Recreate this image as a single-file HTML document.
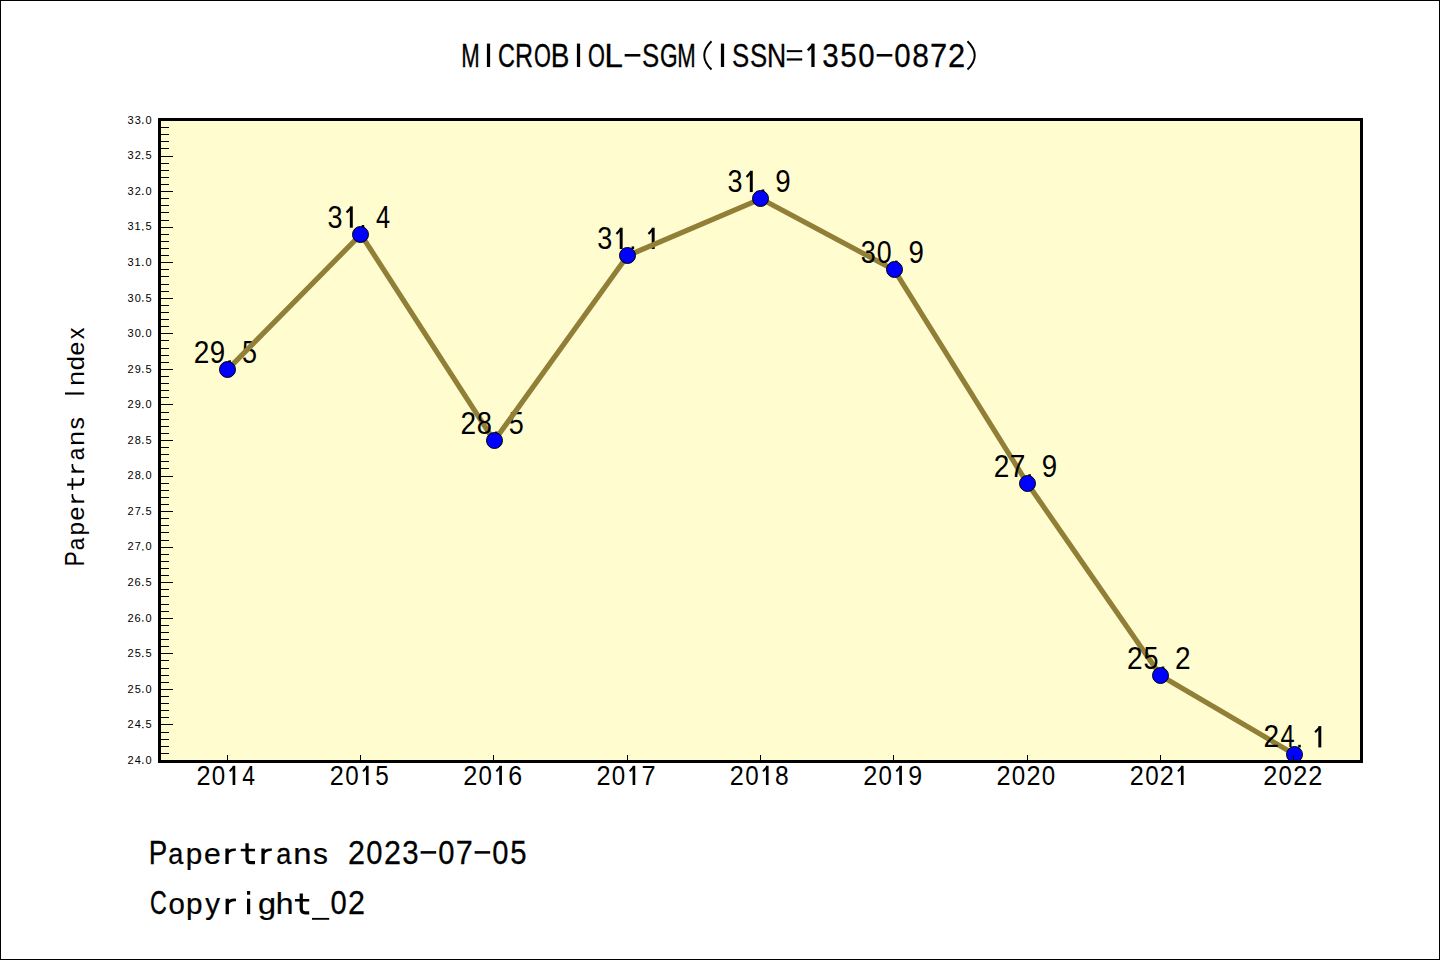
<!DOCTYPE html><html><head><meta charset="utf-8"><style>html,body{margin:0;padding:0;background:#fff;width:1440px;height:960px;overflow:hidden}svg{display:block}text{font-family:"Liberation Sans", sans-serif;fill:#000}</style></head><body>
<svg width="1440" height="960" viewBox="0 0 1440 960">
<rect x="0.5" y="0.5" width="1439" height="959" fill="#fff" stroke="#000" stroke-width="1"/>
<rect x="158" y="118" width="1205" height="645" fill="#FFFDD0"/>
<text transform="translate(193.75 362.95) scale(0.906 1.000)" font-size="30.96">2</text><text transform="translate(209.86 362.95) scale(0.894 1.000)" font-size="30.96">9</text><rect x="228.35" y="360.35" width="2.6" height="2.6" fill="#000"/><text transform="translate(242.08 362.95) scale(0.871 1.000)" font-size="30.96">5</text>
<line x1="227.55" y1="369.65" x2="360.88" y2="234.37" stroke="#917F37" stroke-width="5.2"/>
<text transform="translate(327.46 227.67) scale(0.871 1.000)" font-size="30.96">3</text><rect x="349.84" y="206.37" width="2.94" height="21.30" fill="#000"/><path d="M351.31 207.40L346.62 212.55" stroke="#000" stroke-width="2.20" fill="none"/><rect x="361.68" y="225.07" width="2.6" height="2.6" fill="#000"/><text transform="translate(375.91 227.67) scale(0.819 1.000)" font-size="30.96">4</text>
<line x1="360.88" y1="234.37" x2="494.21" y2="440.85" stroke="#917F37" stroke-width="5.2"/>
<text transform="translate(460.41 434.15) scale(0.906 1.000)" font-size="30.96">2</text><text transform="translate(476.64 434.15) scale(0.880 1.000)" font-size="30.96">8</text><rect x="495.01" y="431.55" width="2.6" height="2.6" fill="#000"/><text transform="translate(508.74 434.15) scale(0.871 1.000)" font-size="30.96">5</text>
<line x1="494.21" y1="440.85" x2="627.54" y2="255.73" stroke="#917F37" stroke-width="5.2"/>
<text transform="translate(597.32 249.03) scale(0.871 1.000)" font-size="30.96">3</text><rect x="619.70" y="227.73" width="2.94" height="21.30" fill="#000"/><path d="M621.17 228.76L616.48 233.91" stroke="#000" stroke-width="2.20" fill="none"/><rect x="631.54" y="246.43" width="2.6" height="2.6" fill="#000"/><rect x="651.70" y="227.73" width="2.94" height="21.30" fill="#000"/><path d="M653.17 228.76L648.48 233.91" stroke="#000" stroke-width="2.20" fill="none"/>
<line x1="627.54" y1="255.73" x2="760.87" y2="198.77" stroke="#917F37" stroke-width="5.2"/>
<text transform="translate(727.45 192.07) scale(0.871 1.000)" font-size="30.96">3</text><rect x="749.83" y="170.77" width="2.94" height="21.30" fill="#000"/><path d="M751.30 171.80L746.61 176.95" stroke="#000" stroke-width="2.20" fill="none"/><rect x="761.67" y="189.47" width="2.6" height="2.6" fill="#000"/><text transform="translate(775.18 192.07) scale(0.894 1.000)" font-size="30.96">9</text>
<line x1="760.87" y1="198.77" x2="894.20" y2="269.97" stroke="#917F37" stroke-width="5.2"/>
<text transform="translate(860.78 263.27) scale(0.871 1.000)" font-size="30.96">3</text><text transform="translate(876.77 263.27) scale(0.864 1.000)" font-size="30.96">0</text><rect x="895.00" y="260.67" width="2.6" height="2.6" fill="#000"/><text transform="translate(908.51 263.27) scale(0.894 1.000)" font-size="30.96">9</text>
<line x1="894.20" y1="269.97" x2="1027.53" y2="483.57" stroke="#917F37" stroke-width="5.2"/>
<text transform="translate(993.73 476.87) scale(0.906 1.000)" font-size="30.96">2</text><text transform="translate(1009.70 476.87) scale(0.908 1.000)" font-size="30.96">7</text><rect x="1028.33" y="474.27" width="2.6" height="2.6" fill="#000"/><text transform="translate(1041.84 476.87) scale(0.894 1.000)" font-size="30.96">9</text>
<line x1="1027.53" y1="483.57" x2="1160.86" y2="675.81" stroke="#917F37" stroke-width="5.2"/>
<text transform="translate(1127.06 669.11) scale(0.906 1.000)" font-size="30.96">2</text><text transform="translate(1143.39 669.11) scale(0.871 1.000)" font-size="30.96">5</text><rect x="1161.66" y="666.51" width="2.6" height="2.6" fill="#000"/><text transform="translate(1175.06 669.11) scale(0.906 1.000)" font-size="30.96">2</text>
<line x1="1160.86" y1="675.81" x2="1294.19" y2="754.13" stroke="#917F37" stroke-width="5.2"/>
<text transform="translate(1263.59 747.43) scale(0.906 1.000)" font-size="30.96">2</text><text transform="translate(1280.42 747.43) scale(0.819 1.000)" font-size="30.96">4</text><rect x="1298.19" y="744.83" width="2.6" height="2.6" fill="#000"/><rect x="1318.35" y="726.13" width="2.94" height="21.30" fill="#000"/><path d="M1319.82 727.16L1315.13 732.31" stroke="#000" stroke-width="2.20" fill="none"/>
<circle cx="227.5" cy="369.5" r="8" fill="#0000FF" stroke="#000" stroke-width="1"/>
<circle cx="360.5" cy="234.5" r="8" fill="#0000FF" stroke="#000" stroke-width="1"/>
<circle cx="494.5" cy="440.5" r="8" fill="#0000FF" stroke="#000" stroke-width="1"/>
<circle cx="627.5" cy="255.5" r="8" fill="#0000FF" stroke="#000" stroke-width="1"/>
<circle cx="760.5" cy="198.5" r="8" fill="#0000FF" stroke="#000" stroke-width="1"/>
<circle cx="894.5" cy="269.5" r="8" fill="#0000FF" stroke="#000" stroke-width="1"/>
<circle cx="1027.5" cy="483.5" r="8" fill="#0000FF" stroke="#000" stroke-width="1"/>
<circle cx="1160.5" cy="675.5" r="8" fill="#0000FF" stroke="#000" stroke-width="1"/>
<circle cx="1294.5" cy="754.5" r="8" fill="#0000FF" stroke="#000" stroke-width="1"/>
<rect x="161" y="753" width="8" height="1" fill="#000"/>
<rect x="161" y="746" width="8" height="1" fill="#000"/>
<rect x="161" y="739" width="8" height="1" fill="#000"/>
<rect x="161" y="732" width="8" height="1" fill="#000"/>
<rect x="161" y="724" width="12" height="1" fill="#000"/>
<rect x="161" y="717" width="8" height="1" fill="#000"/>
<rect x="161" y="710" width="8" height="1" fill="#000"/>
<rect x="161" y="703" width="8" height="1" fill="#000"/>
<rect x="161" y="696" width="8" height="1" fill="#000"/>
<rect x="161" y="689" width="12" height="1" fill="#000"/>
<rect x="161" y="682" width="8" height="1" fill="#000"/>
<rect x="161" y="675" width="8" height="1" fill="#000"/>
<rect x="161" y="668" width="8" height="1" fill="#000"/>
<rect x="161" y="660" width="8" height="1" fill="#000"/>
<rect x="161" y="653" width="12" height="1" fill="#000"/>
<rect x="161" y="646" width="8" height="1" fill="#000"/>
<rect x="161" y="639" width="8" height="1" fill="#000"/>
<rect x="161" y="632" width="8" height="1" fill="#000"/>
<rect x="161" y="625" width="8" height="1" fill="#000"/>
<rect x="161" y="618" width="12" height="1" fill="#000"/>
<rect x="161" y="611" width="8" height="1" fill="#000"/>
<rect x="161" y="604" width="8" height="1" fill="#000"/>
<rect x="161" y="596" width="8" height="1" fill="#000"/>
<rect x="161" y="589" width="8" height="1" fill="#000"/>
<rect x="161" y="582" width="12" height="1" fill="#000"/>
<rect x="161" y="575" width="8" height="1" fill="#000"/>
<rect x="161" y="568" width="8" height="1" fill="#000"/>
<rect x="161" y="561" width="8" height="1" fill="#000"/>
<rect x="161" y="554" width="8" height="1" fill="#000"/>
<rect x="161" y="547" width="12" height="1" fill="#000"/>
<rect x="161" y="540" width="8" height="1" fill="#000"/>
<rect x="161" y="532" width="8" height="1" fill="#000"/>
<rect x="161" y="525" width="8" height="1" fill="#000"/>
<rect x="161" y="518" width="8" height="1" fill="#000"/>
<rect x="161" y="511" width="12" height="1" fill="#000"/>
<rect x="161" y="504" width="8" height="1" fill="#000"/>
<rect x="161" y="497" width="8" height="1" fill="#000"/>
<rect x="161" y="490" width="8" height="1" fill="#000"/>
<rect x="161" y="483" width="8" height="1" fill="#000"/>
<rect x="161" y="476" width="12" height="1" fill="#000"/>
<rect x="161" y="468" width="8" height="1" fill="#000"/>
<rect x="161" y="461" width="8" height="1" fill="#000"/>
<rect x="161" y="454" width="8" height="1" fill="#000"/>
<rect x="161" y="447" width="8" height="1" fill="#000"/>
<rect x="161" y="440" width="12" height="1" fill="#000"/>
<rect x="161" y="433" width="8" height="1" fill="#000"/>
<rect x="161" y="426" width="8" height="1" fill="#000"/>
<rect x="161" y="419" width="8" height="1" fill="#000"/>
<rect x="161" y="412" width="8" height="1" fill="#000"/>
<rect x="161" y="404" width="12" height="1" fill="#000"/>
<rect x="161" y="397" width="8" height="1" fill="#000"/>
<rect x="161" y="390" width="8" height="1" fill="#000"/>
<rect x="161" y="383" width="8" height="1" fill="#000"/>
<rect x="161" y="376" width="8" height="1" fill="#000"/>
<rect x="161" y="369" width="12" height="1" fill="#000"/>
<rect x="161" y="362" width="8" height="1" fill="#000"/>
<rect x="161" y="355" width="8" height="1" fill="#000"/>
<rect x="161" y="348" width="8" height="1" fill="#000"/>
<rect x="161" y="340" width="8" height="1" fill="#000"/>
<rect x="161" y="333" width="12" height="1" fill="#000"/>
<rect x="161" y="326" width="8" height="1" fill="#000"/>
<rect x="161" y="319" width="8" height="1" fill="#000"/>
<rect x="161" y="312" width="8" height="1" fill="#000"/>
<rect x="161" y="305" width="8" height="1" fill="#000"/>
<rect x="161" y="298" width="12" height="1" fill="#000"/>
<rect x="161" y="291" width="8" height="1" fill="#000"/>
<rect x="161" y="284" width="8" height="1" fill="#000"/>
<rect x="161" y="276" width="8" height="1" fill="#000"/>
<rect x="161" y="269" width="8" height="1" fill="#000"/>
<rect x="161" y="262" width="12" height="1" fill="#000"/>
<rect x="161" y="255" width="8" height="1" fill="#000"/>
<rect x="161" y="248" width="8" height="1" fill="#000"/>
<rect x="161" y="241" width="8" height="1" fill="#000"/>
<rect x="161" y="234" width="8" height="1" fill="#000"/>
<rect x="161" y="227" width="12" height="1" fill="#000"/>
<rect x="161" y="220" width="8" height="1" fill="#000"/>
<rect x="161" y="212" width="8" height="1" fill="#000"/>
<rect x="161" y="205" width="8" height="1" fill="#000"/>
<rect x="161" y="198" width="8" height="1" fill="#000"/>
<rect x="161" y="191" width="12" height="1" fill="#000"/>
<rect x="161" y="184" width="8" height="1" fill="#000"/>
<rect x="161" y="177" width="8" height="1" fill="#000"/>
<rect x="161" y="170" width="8" height="1" fill="#000"/>
<rect x="161" y="163" width="8" height="1" fill="#000"/>
<rect x="161" y="156" width="12" height="1" fill="#000"/>
<rect x="161" y="148" width="8" height="1" fill="#000"/>
<rect x="161" y="141" width="8" height="1" fill="#000"/>
<rect x="161" y="134" width="8" height="1" fill="#000"/>
<rect x="161" y="127" width="8" height="1" fill="#000"/>
<rect x="227" y="755" width="1" height="5" fill="#000"/>
<rect x="360" y="755" width="1" height="5" fill="#000"/>
<rect x="493" y="755" width="1" height="5" fill="#000"/>
<rect x="627" y="755" width="1" height="5" fill="#000"/>
<rect x="760" y="755" width="1" height="5" fill="#000"/>
<rect x="893" y="755" width="1" height="5" fill="#000"/>
<rect x="1027" y="755" width="1" height="5" fill="#000"/>
<rect x="1160" y="755" width="1" height="5" fill="#000"/>
<rect x="1293" y="755" width="1" height="5" fill="#000"/>
<rect x="158" y="118" width="1205" height="3" fill="#000"/>
<rect x="158" y="760" width="1205" height="3" fill="#000"/>
<rect x="158" y="118" width="3" height="645" fill="#000"/>
<rect x="1360" y="118" width="3" height="645" fill="#000"/>
<text x="127.59" y="763.80" font-size="11.00">2</text>
<text x="134.68" y="763.80" font-size="11.00">4</text>
<rect x="142.20" y="762.50" width="1.3" height="1.3" fill="#000"/>
<text x="145.59" y="763.80" font-size="11.00">0</text>
<text x="127.59" y="728.25" font-size="11.00">2</text>
<text x="134.68" y="728.25" font-size="11.00">4</text>
<rect x="142.20" y="726.95" width="1.3" height="1.3" fill="#000"/>
<text x="145.60" y="728.25" font-size="11.00">5</text>
<text x="127.59" y="692.69" font-size="11.00">2</text>
<text x="134.65" y="692.69" font-size="11.00">5</text>
<rect x="142.20" y="691.39" width="1.3" height="1.3" fill="#000"/>
<text x="145.59" y="692.69" font-size="11.00">0</text>
<text x="127.59" y="657.13" font-size="11.00">2</text>
<text x="134.65" y="657.13" font-size="11.00">5</text>
<rect x="142.20" y="655.84" width="1.3" height="1.3" fill="#000"/>
<text x="145.60" y="657.13" font-size="11.00">5</text>
<text x="127.59" y="621.58" font-size="11.00">2</text>
<text x="134.60" y="621.58" font-size="11.00">6</text>
<rect x="142.20" y="620.28" width="1.3" height="1.3" fill="#000"/>
<text x="145.59" y="621.58" font-size="11.00">0</text>
<text x="127.59" y="586.02" font-size="11.00">2</text>
<text x="134.60" y="586.02" font-size="11.00">6</text>
<rect x="142.20" y="584.73" width="1.3" height="1.3" fill="#000"/>
<text x="145.60" y="586.02" font-size="11.00">5</text>
<text x="127.59" y="550.47" font-size="11.00">2</text>
<text x="134.64" y="550.47" font-size="11.00">7</text>
<rect x="142.20" y="549.17" width="1.3" height="1.3" fill="#000"/>
<text x="145.59" y="550.47" font-size="11.00">0</text>
<text x="127.59" y="514.91" font-size="11.00">2</text>
<text x="134.64" y="514.91" font-size="11.00">7</text>
<rect x="142.20" y="513.62" width="1.3" height="1.3" fill="#000"/>
<text x="145.60" y="514.91" font-size="11.00">5</text>
<text x="127.59" y="479.36" font-size="11.00">2</text>
<text x="134.64" y="479.36" font-size="11.00">8</text>
<rect x="142.20" y="478.06" width="1.3" height="1.3" fill="#000"/>
<text x="145.59" y="479.36" font-size="11.00">0</text>
<text x="127.59" y="443.81" font-size="11.00">2</text>
<text x="134.64" y="443.81" font-size="11.00">8</text>
<rect x="142.20" y="442.50" width="1.3" height="1.3" fill="#000"/>
<text x="145.60" y="443.81" font-size="11.00">5</text>
<text x="127.59" y="408.25" font-size="11.00">2</text>
<text x="134.64" y="408.25" font-size="11.00">9</text>
<rect x="142.20" y="406.95" width="1.3" height="1.3" fill="#000"/>
<text x="145.59" y="408.25" font-size="11.00">0</text>
<text x="127.59" y="372.69" font-size="11.00">2</text>
<text x="134.64" y="372.69" font-size="11.00">9</text>
<rect x="142.20" y="371.39" width="1.3" height="1.3" fill="#000"/>
<text x="145.60" y="372.69" font-size="11.00">5</text>
<text x="127.62" y="337.14" font-size="11.00">3</text>
<text x="134.64" y="337.14" font-size="11.00">0</text>
<rect x="142.20" y="335.84" width="1.3" height="1.3" fill="#000"/>
<text x="145.59" y="337.14" font-size="11.00">0</text>
<text x="127.62" y="301.59" font-size="11.00">3</text>
<text x="134.64" y="301.59" font-size="11.00">0</text>
<rect x="142.20" y="300.29" width="1.3" height="1.3" fill="#000"/>
<text x="145.60" y="301.59" font-size="11.00">5</text>
<text x="127.62" y="266.03" font-size="11.00">3</text>
<text x="134.49" y="266.03" font-size="11.00">1</text>
<rect x="142.20" y="264.73" width="1.3" height="1.3" fill="#000"/>
<text x="145.59" y="266.03" font-size="11.00">0</text>
<text x="127.62" y="230.47" font-size="11.00">3</text>
<text x="134.49" y="230.47" font-size="11.00">1</text>
<rect x="142.20" y="229.17" width="1.3" height="1.3" fill="#000"/>
<text x="145.60" y="230.47" font-size="11.00">5</text>
<text x="127.62" y="194.92" font-size="11.00">3</text>
<text x="134.64" y="194.92" font-size="11.00">2</text>
<rect x="142.20" y="193.62" width="1.3" height="1.3" fill="#000"/>
<text x="145.59" y="194.92" font-size="11.00">0</text>
<text x="127.62" y="159.37" font-size="11.00">3</text>
<text x="134.64" y="159.37" font-size="11.00">2</text>
<rect x="142.20" y="158.07" width="1.3" height="1.3" fill="#000"/>
<text x="145.60" y="159.37" font-size="11.00">5</text>
<text x="127.62" y="123.81" font-size="11.00">3</text>
<text x="134.67" y="123.81" font-size="11.00">3</text>
<rect x="142.20" y="122.51" width="1.3" height="1.3" fill="#000"/>
<text x="145.59" y="123.81" font-size="11.00">0</text>
<text transform="translate(196.52 785.00) scale(0.906 1.000)" font-size="27.91">2</text>
<text transform="translate(211.85 785.00) scale(0.864 1.000)" font-size="27.91">0</text>
<rect x="232.61" y="765.80" width="2.65" height="19.20" fill="#000"/><path d="M233.93 766.73L229.71 771.37" stroke="#000" stroke-width="1.99" fill="none"/>
<text transform="translate(242.27 785.00) scale(0.819 1.000)" font-size="27.91">4</text>
<text transform="translate(329.85 785.00) scale(0.906 1.000)" font-size="27.91">2</text>
<text transform="translate(345.18 785.00) scale(0.864 1.000)" font-size="27.91">0</text>
<rect x="365.94" y="765.80" width="2.65" height="19.20" fill="#000"/><path d="M367.26 766.73L363.04 771.37" stroke="#000" stroke-width="1.99" fill="none"/>
<text transform="translate(375.15 785.00) scale(0.871 1.000)" font-size="27.91">5</text>
<text transform="translate(463.18 785.00) scale(0.906 1.000)" font-size="27.91">2</text>
<text transform="translate(478.51 785.00) scale(0.864 1.000)" font-size="27.91">0</text>
<rect x="499.27" y="765.80" width="2.65" height="19.20" fill="#000"/><path d="M500.59 766.73L496.37 771.37" stroke="#000" stroke-width="1.99" fill="none"/>
<text transform="translate(508.18 785.00) scale(0.895 1.000)" font-size="27.91">6</text>
<text transform="translate(596.51 785.00) scale(0.906 1.000)" font-size="27.91">2</text>
<text transform="translate(611.84 785.00) scale(0.864 1.000)" font-size="27.91">0</text>
<rect x="632.60" y="765.80" width="2.65" height="19.20" fill="#000"/><path d="M633.92 766.73L629.70 771.37" stroke="#000" stroke-width="1.99" fill="none"/>
<text transform="translate(641.48 785.00) scale(0.908 1.000)" font-size="27.91">7</text>
<text transform="translate(729.84 785.00) scale(0.906 1.000)" font-size="27.91">2</text>
<text transform="translate(745.17 785.00) scale(0.864 1.000)" font-size="27.91">0</text>
<rect x="765.93" y="765.80" width="2.65" height="19.20" fill="#000"/><path d="M767.25 766.73L763.03 771.37" stroke="#000" stroke-width="1.99" fill="none"/>
<text transform="translate(775.04 785.00) scale(0.880 1.000)" font-size="27.91">8</text>
<text transform="translate(863.17 785.00) scale(0.906 1.000)" font-size="27.91">2</text>
<text transform="translate(878.50 785.00) scale(0.864 1.000)" font-size="27.91">0</text>
<rect x="899.26" y="765.80" width="2.65" height="19.20" fill="#000"/><path d="M900.58 766.73L896.36 771.37" stroke="#000" stroke-width="1.99" fill="none"/>
<text transform="translate(908.27 785.00) scale(0.894 1.000)" font-size="27.91">9</text>
<text transform="translate(996.50 785.00) scale(0.906 1.000)" font-size="27.91">2</text>
<text transform="translate(1011.83 785.00) scale(0.864 1.000)" font-size="27.91">0</text>
<text transform="translate(1026.50 785.00) scale(0.906 1.000)" font-size="27.91">2</text>
<text transform="translate(1041.83 785.00) scale(0.864 1.000)" font-size="27.91">0</text>
<text transform="translate(1129.83 785.00) scale(0.906 1.000)" font-size="27.91">2</text>
<text transform="translate(1145.16 785.00) scale(0.864 1.000)" font-size="27.91">0</text>
<text transform="translate(1159.83 785.00) scale(0.906 1.000)" font-size="27.91">2</text>
<rect x="1180.92" y="765.80" width="2.65" height="19.20" fill="#000"/><path d="M1182.24 766.73L1178.02 771.37" stroke="#000" stroke-width="1.99" fill="none"/>
<text transform="translate(1263.16 785.00) scale(0.906 1.000)" font-size="27.91">2</text>
<text transform="translate(1278.49 785.00) scale(0.864 1.000)" font-size="27.91">0</text>
<text transform="translate(1293.16 785.00) scale(0.906 1.000)" font-size="27.91">2</text>
<text transform="translate(1308.16 785.00) scale(0.906 1.000)" font-size="27.91">2</text>
<text transform="translate(461.26 67.00) scale(0.652 1.000)" font-size="34.01" stroke="#000" stroke-width="0.38">M</text>
<rect x="486.89" y="43.60" width="3.23" height="23.40" fill="#000"/>
<text transform="translate(497.89 67.00) scale(0.689 1.000)" font-size="34.01" stroke="#000" stroke-width="0.36">C</text>
<text transform="translate(515.03 67.00) scale(0.735 1.000)" font-size="34.01" stroke="#000" stroke-width="0.34">R</text>
<text transform="translate(534.05 67.00) scale(0.639 1.000)" font-size="34.01" stroke="#000" stroke-width="0.39">O</text>
<text transform="translate(550.80 67.00) scale(0.820 1.000)" font-size="34.01" stroke="#000" stroke-width="0.31">B</text>
<rect x="576.89" y="43.60" width="3.23" height="23.40" fill="#000"/>
<text transform="translate(588.05 67.00) scale(0.639 1.000)" font-size="34.01" stroke="#000" stroke-width="0.39">O</text>
<text transform="translate(604.32 67.00) scale(0.989 1.000)" font-size="34.01" stroke="#000" stroke-width="0.25">L</text>
<rect x="624.66" y="54.01" width="15.68" height="2.57" fill="#000"/>
<text transform="translate(641.91 67.00) scale(0.758 1.000)" font-size="34.01" stroke="#000" stroke-width="0.33">S</text>
<text transform="translate(659.94 67.00) scale(0.668 1.000)" font-size="34.01" stroke="#000" stroke-width="0.37">G</text>
<text transform="translate(677.26 67.00) scale(0.652 1.000)" font-size="34.01" stroke="#000" stroke-width="0.38">M</text>
<path d="M711.52 41.26Q697.01 55.42 711.52 69.57" fill="none" stroke="#000" stroke-width="1.99"/>
<rect x="720.89" y="43.60" width="3.23" height="23.40" fill="#000"/>
<text transform="translate(731.91 67.00) scale(0.758 1.000)" font-size="34.01" stroke="#000" stroke-width="0.33">S</text>
<text transform="translate(749.91 67.00) scale(0.758 1.000)" font-size="34.01" stroke="#000" stroke-width="0.33">S</text>
<text transform="translate(766.90 67.00) scale(0.781 1.000)" font-size="34.01" stroke="#000" stroke-width="0.32">N</text>
<rect x="786.78" y="50.15" width="15.44" height="1.99" fill="#000"/><rect x="786.78" y="58.34" width="15.44" height="2.22" fill="#000"/>
<rect x="811.35" y="43.60" width="3.23" height="23.40" fill="#000"/><path d="M812.97 44.73L807.82 50.39" stroke="#000" stroke-width="2.42" fill="none"/>
<text transform="translate(822.35 67.00) scale(0.871 1.000)" font-size="34.01" stroke="#000" stroke-width="0.29">3</text>
<text transform="translate(840.29 67.00) scale(0.871 1.000)" font-size="34.01" stroke="#000" stroke-width="0.29">5</text>
<text transform="translate(858.33 67.00) scale(0.864 1.000)" font-size="34.01" stroke="#000" stroke-width="0.29">0</text>
<rect x="876.66" y="54.01" width="15.68" height="2.57" fill="#000"/>
<text transform="translate(894.33 67.00) scale(0.864 1.000)" font-size="34.01" stroke="#000" stroke-width="0.29">0</text>
<text transform="translate(912.18 67.00) scale(0.880 1.000)" font-size="34.01" stroke="#000" stroke-width="0.28">8</text>
<text transform="translate(929.90 67.00) scale(0.908 1.000)" font-size="34.01" stroke="#000" stroke-width="0.28">7</text>
<text transform="translate(947.93 67.00) scale(0.906 1.000)" font-size="34.01" stroke="#000" stroke-width="0.28">2</text>
<path d="M967.48 41.26Q981.99 55.42 967.48 69.57" fill="none" stroke="#000" stroke-width="1.99"/>
<text transform="translate(148.78 864.00) scale(0.820 1.000)" font-size="33.72" stroke="#000" stroke-width="0.31">P</text>
<text transform="translate(168.29 864.00) scale(0.804 0.850)" font-size="33.72" stroke="#000" stroke-width="0.31">a</text>
<text transform="translate(185.80 864.00) scale(0.881 0.850)" font-size="33.72" stroke="#000" stroke-width="0.28">p</text>
<text transform="translate(204.04 864.00) scale(0.894 0.850)" font-size="33.72" stroke="#000" stroke-width="0.28">e</text>
<rect x="225.39" y="848.53" width="3.32" height="15.47" fill="#000"/><path d="M226.92 854.26Q229.24 849.15 235.81 849.73" fill="none" stroke="#000" stroke-width="2.55"/>
<rect x="240.74" y="848.80" width="14.27" height="2.51" fill="#000"/><path d="M247.05 843.35V858.90Q247.05 862.72 251.18 862.72H255.01" fill="none" stroke="#000" stroke-width="3.25"/>
<rect x="261.39" y="848.53" width="3.32" height="15.47" fill="#000"/><path d="M262.92 854.26Q265.24 849.15 271.81 849.73" fill="none" stroke="#000" stroke-width="2.55"/>
<text transform="translate(276.29 864.00) scale(0.804 0.850)" font-size="33.72" stroke="#000" stroke-width="0.31">a</text>
<text transform="translate(293.26 864.00) scale(0.972 0.850)" font-size="33.72" stroke="#000" stroke-width="0.26">n</text>
<text transform="translate(313.07 864.00) scale(0.884 0.850)" font-size="33.72" stroke="#000" stroke-width="0.28">s</text>

<text transform="translate(347.90 864.00) scale(0.906 1.000)" font-size="33.72" stroke="#000" stroke-width="0.28">2</text>
<text transform="translate(366.30 864.00) scale(0.864 1.000)" font-size="33.72" stroke="#000" stroke-width="0.29">0</text>
<text transform="translate(383.90 864.00) scale(0.906 1.000)" font-size="33.72" stroke="#000" stroke-width="0.28">2</text>
<text transform="translate(402.32 864.00) scale(0.871 1.000)" font-size="33.72" stroke="#000" stroke-width="0.29">3</text>
<rect x="420.63" y="851.12" width="15.54" height="2.55" fill="#000"/>
<text transform="translate(438.30 864.00) scale(0.864 1.000)" font-size="33.72" stroke="#000" stroke-width="0.29">0</text>
<text transform="translate(455.87 864.00) scale(0.908 1.000)" font-size="33.72" stroke="#000" stroke-width="0.28">7</text>
<rect x="474.63" y="851.12" width="15.54" height="2.55" fill="#000"/>
<text transform="translate(492.30 864.00) scale(0.864 1.000)" font-size="33.72" stroke="#000" stroke-width="0.29">0</text>
<text transform="translate(510.26 864.00) scale(0.871 1.000)" font-size="33.72" stroke="#000" stroke-width="0.29">5</text>
<text transform="translate(150.07 914.20) scale(0.689 1.000)" font-size="33.72" stroke="#000" stroke-width="0.36">C</text>
<text transform="translate(168.40 914.20) scale(0.874 0.850)" font-size="33.72" stroke="#000" stroke-width="0.29">o</text>
<text transform="translate(186.00 914.20) scale(0.881 0.850)" font-size="33.72" stroke="#000" stroke-width="0.28">p</text>
<text transform="translate(205.22 914.20) scale(0.875 0.850)" font-size="33.72" stroke="#000" stroke-width="0.29">y</text>
<rect x="225.59" y="898.73" width="3.32" height="15.47" fill="#000"/><path d="M227.12 904.46Q229.44 899.35 236.01 899.93" fill="none" stroke="#000" stroke-width="2.55"/>
<rect x="247.00" y="898.73" width="3.20" height="15.47" fill="#000"/><rect x="247.00" y="891.00" width="3.20" height="3.71" fill="#000"/>
<text transform="translate(257.93 914.20) scale(0.964 0.850)" font-size="33.72" stroke="#000" stroke-width="0.26">g</text>
<text transform="translate(275.66 914.20) scale(0.946 0.850)" font-size="33.72" stroke="#000" stroke-width="0.26">h</text>
<rect x="294.94" y="899.00" width="14.27" height="2.51" fill="#000"/><path d="M301.25 893.55V909.10Q301.25 912.92 305.38 912.92H309.21" fill="none" stroke="#000" stroke-width="3.25"/>
<rect x="312.02" y="917.91" width="17.17" height="1.86" fill="#000"/>
<text transform="translate(330.50 914.20) scale(0.864 1.000)" font-size="33.72" stroke="#000" stroke-width="0.29">0</text>
<text transform="translate(348.10 914.20) scale(0.906 1.000)" font-size="33.72" stroke="#000" stroke-width="0.28">2</text>
<g transform="translate(84.2 0) rotate(-90)">
<text transform="translate(-566.46 0.00) scale(0.820 1.000)" font-size="27.91">P</text>
<text transform="translate(-550.21 0.00) scale(0.804 0.850)" font-size="27.91">a</text>
<text transform="translate(-535.61 0.00) scale(0.881 0.850)" font-size="27.91">p</text>
<text transform="translate(-520.42 0.00) scale(0.894 0.850)" font-size="27.91">e</text>
<rect x="-502.65" y="-12.81" width="2.19" height="12.81" fill="#000"/><path d="M-501.38 -8.06Q-499.46 -12.29 -494.03 -11.81" fill="none" stroke="#000" stroke-width="1.68"/>
<rect x="-489.84" y="-12.58" width="11.81" height="1.65" fill="#000"/><path d="M-484.61 -17.09V-4.22Q-484.61 -1.06 -481.20 -1.06H-478.03" fill="none" stroke="#000" stroke-width="2.14"/>
<rect x="-472.65" y="-12.81" width="2.19" height="12.81" fill="#000"/><path d="M-471.38 -8.06Q-469.46 -12.29 -464.03 -11.81" fill="none" stroke="#000" stroke-width="1.68"/>
<text transform="translate(-460.21 0.00) scale(0.804 0.850)" font-size="27.91">a</text>
<text transform="translate(-446.06 0.00) scale(0.972 0.850)" font-size="27.91">n</text>
<text transform="translate(-429.56 0.00) scale(0.884 0.850)" font-size="27.91">s</text>

<rect x="-394.56" y="-19.20" width="2.11" height="19.20" fill="#000"/>
<text transform="translate(-386.06 0.00) scale(0.972 0.850)" font-size="27.91">n</text>
<text transform="translate(-370.34 0.00) scale(0.918 0.850)" font-size="27.91">d</text>
<text transform="translate(-355.42 0.00) scale(0.894 0.850)" font-size="27.91">e</text>
<text transform="translate(-339.33 0.00) scale(0.835 0.850)" font-size="27.91">x</text>
</g>
</svg></body></html>
